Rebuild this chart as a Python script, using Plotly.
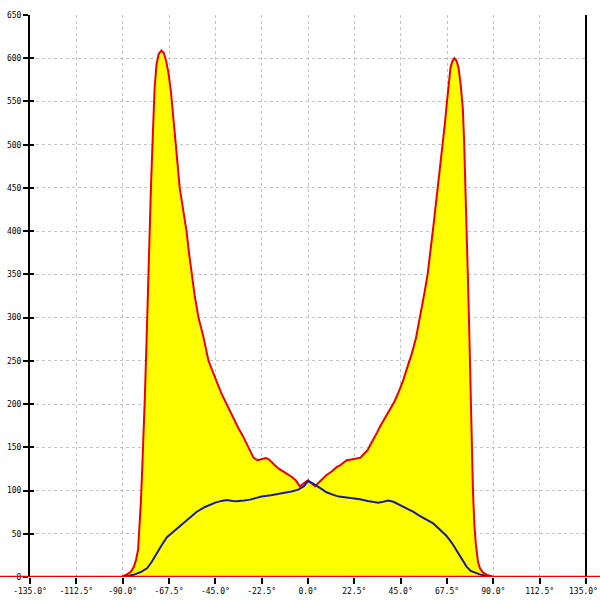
import plotly.graph_objects as go

# Red series (filled yellow): angle in degrees, value
red_x = [-135, -90.5, -88, -86, -84.5, -83.5, -82.5, -81.8, -81.2, -80.5, -79.9, -79.2, -78.5,
         -77.8, -77, -76.2, -75.3, -74.5, -73.6, -72.5, -71.2, -70, -68.8, -67.7, -66.5, -65.3,
         -64.2, -62.3, -60.5, -59, -57.8, -56.5, -55, -53.2, -51, -48.3, -46, -44.2, -42, -40,
         -38, -36.2, -33.8, -31.4, -29.5, -28, -26.5, -24.5, -22.5, -20.5, -19, -17.5, -16, -14,
         -12, -10, -8, -6, -4, 0, 3.4, 5.5, 7.4, 9, 11.5, 13.9, 15.5, 17, 18.8, 21, 23.5, 25.5,
         27, 29, 30.3, 32, 33.5, 35.2, 37, 38.5, 40.1, 42, 44.2, 46.3, 48.3, 50.5, 52.4, 54,
         54.8, 56.5, 58.1, 59.5, 60.6, 61.8, 63, 64.3, 65.5, 66.5, 67.5, 68.4, 69.2, 70.2, 71.1,
         72.1, 73.1, 74.2, 75.2, 75.8, 76.4, 77, 77.7, 78.3, 78.9, 79.5, 80.1, 80.8, 81.5, 82.6,
         83.5, 85, 87, 90, 135]
red_y = [0, 0, 3, 6, 12, 20, 32, 55, 85, 125, 160, 210, 265,
         330, 395, 455, 515, 565, 592, 605, 609, 606, 596, 582, 560, 533,
         500, 450, 425, 400, 375, 350, 325, 300, 280, 250, 235, 225, 212, 202,
         192, 182, 172, 162, 152, 144, 138, 135, 136, 137.5, 136, 132, 129, 125,
         121.5, 119, 116, 112, 105, 112, 105, 110, 114, 118, 122, 127, 129, 132, 135, 136, 137, 138,
         142, 147, 153, 160, 167, 175, 182, 188, 195, 203, 215, 228, 243, 259, 276, 295,
         307, 328, 350, 375, 400, 425, 450, 475, 500, 525, 550, 572, 589, 597, 600,
         597, 589, 568, 541, 505, 461, 405, 342, 285, 220, 150, 100, 60, 38, 17,
         10, 5, 2.5, 0, 0]

# Blue series
blue_x = [-90, -87, -84.7, -81, -78.2, -76, -73.4, -71, -68.5, -65, -62, -58, -54, -50, -47, -45,
          -42, -39.4, -36.5, -34.6, -31, -28.1, -25, -22.5, -18, -12, -8, -4.7, -2, 0, 2.5, 5.8,
          9, 12.3, 15, 18.8, 22.5, 25.2, 29, 31.7, 34.1, 36.5, 39, 41.5, 44.6, 48, 51, 54, 57,
          60.8, 64, 67.3, 70, 72.1, 74.5, 77, 79, 83.4, 87, 90]
blue_y = [0, 1, 2.5, 6, 10, 17, 28, 37, 46, 53, 60, 68, 75.5, 81, 84.5, 86,
          88, 89, 88, 87.5, 88.5, 89.5, 91.5, 93, 94.5, 97, 99, 101, 105, 111, 108, 103,
          98, 95, 93, 92, 91, 90, 88, 87, 86, 87, 88.5, 87, 83.5, 79, 75.5, 71, 67,
          62, 55, 47.5, 39, 31, 22, 12, 7, 3, 1, 0]

x_ticks = [-135, -112.5, -90, -67.5, -45, -22.5, 0, 22.5, 45, 67.5, 90, 112.5, 135]
x_tick_text = [f"{v:.1f}°" for v in x_ticks]
y_ticks = list(range(0, 651, 50))

# last tick label drawn as a right-anchored annotation so it stays inside the page
axis_tick_text = x_tick_text[:-1] + [""]

fig = go.Figure()
fig.add_trace(go.Scatter(x=red_x, y=red_y, mode="lines", fill="tozeroy",
                         fillcolor="#ffff00", line=dict(color="#ee0000", width=2),
                         hoverinfo="skip", showlegend=False))
fig.add_trace(go.Scatter(x=blue_x, y=blue_y, mode="lines", yaxis="y2",
                         line=dict(color="#1a1aa0", width=2),
                         hoverinfo="skip", showlegend=False))

grid = dict(showgrid=True, gridcolor="#c4c4c4", griddash="3px,3px", gridwidth=1)

fig.update_layout(
    width=600, height=600,
    margin=dict(l=30, r=14, t=15, b=23, autoexpand=False),
    plot_bgcolor="white", paper_bgcolor="white",
    font=dict(family="DejaVu Sans Mono", size=8, color="black"),
    showlegend=False,
    xaxis=dict(range=[-135, 135], tickvals=x_ticks, ticktext=axis_tick_text,
               ticks="outside", ticklen=6, tickwidth=1.5, tickcolor="black",
               ticklabeloverflow="allow",
               showline=False, zeroline=False, automargin=False, **grid),
    yaxis=dict(range=[0, 650], tickvals=y_ticks, ticks="outside", ticklen=5,
               tickwidth=1.5, tickcolor="black", showline=True, linecolor="black",
               ticklabeloverflow="allow",
               linewidth=2, zeroline=False, automargin=False, **grid),
    yaxis2=dict(range=[0, 650], overlaying="y", side="left", tickvals=y_ticks,
                ticks="inside", ticklen=4, tickwidth=1.5, tickcolor="black",
                showticklabels=False, showgrid=False, zeroline=False, showline=False,
                automargin=False),
    shapes=[
        dict(type="line", xref="paper", yref="paper", x0=1, x1=1, y0=0, y1=1,
             line=dict(color="black", width=2), layer="above"),
        dict(type="line", xref="paper", yref="y", x0=-0.06, x1=1.03, y0=0, y1=0,
             line=dict(color="#ee0000", width=2.5), layer="above"),
    ],
    annotations=[
        dict(text=x_tick_text[-1], xref="x", yref="paper", x=x_ticks[-1], y=0,
             xanchor="right", yanchor="top", xshift=13, yshift=-9, showarrow=False,
             borderpad=0, font=dict(family="DejaVu Sans Mono", size=8, color="black")),
    ],
)

fig.write_html("out.html", config={"displayModeBar": False},
               post_script="document.body.style.margin='0';document.body.style.overflow='hidden';")
